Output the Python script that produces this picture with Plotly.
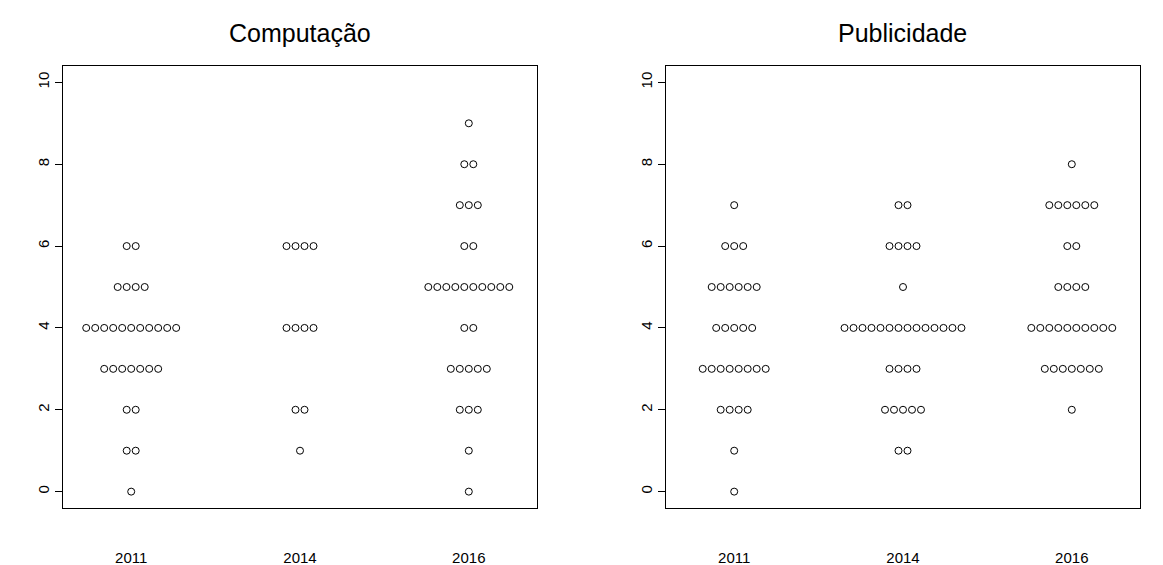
import plotly.graph_objects as go

# Scores on the vertical axis and how many respondents gave each score
scores = list(range(0, 11))
years = ["2011", "2014", "2016"]

comp_2011 = [1, 2, 2, 7, 11, 4, 2, 0, 0, 0, 0]
comp_2014 = [0, 1, 2, 0, 4, 0, 4, 0, 0, 0, 0]
comp_2016 = [1, 1, 3, 5, 2, 10, 2, 3, 2, 1, 0]

pub_2011 = [1, 1, 4, 8, 5, 6, 3, 1, 0, 0, 0]
pub_2014 = [0, 2, 5, 4, 14, 1, 4, 2, 0, 0, 0]
pub_2016 = [0, 0, 1, 7, 10, 4, 2, 6, 1, 0, 0]

panels = [
    ("Computação", [comp_2011, comp_2014, comp_2016]),
    ("Publicidade", [pub_2011, pub_2014, pub_2016]),
]

W, H = 1163, 565
STEP = 0.0533  # horizontal gap between stacked points (x units)
FONT = "Liberation Sans, Arial, sans-serif"

fig = go.Figure()

x_domains = [[63 / W, 537 / W], [666 / W, 1140 / W]]
y_domain = [(H - 508) / H, (H - 66) / H]

for p, (title, groups) in enumerate(panels):
    xa = "x" if p == 0 else "x2"
    ya = "y" if p == 0 else "y2"
    xs, ys = [], []
    for g, counts in enumerate(groups):
        for s, n in zip(scores, counts):
            for k in range(n):
                xs.append(g + 1 + (k - (n - 1) / 2) * STEP)
                ys.append(s)
    fig.add_trace(go.Scatter(
        x=xs, y=ys, mode="markers", xaxis=xa, yaxis=ya,
        marker=dict(symbol="circle-open", size=7, color="black",
                    line=dict(width=1, color="black")),
        showlegend=False, hoverinfo="y",
    ))
    fig.add_annotation(
        text=title, xref="paper", yref="paper",
        x=sum(x_domains[p]) / 2, y=(H - 33) / H,
        xanchor="center", yanchor="middle", showarrow=False,
        font=dict(family=FONT, size=25, color="black"),
    )

axis_common = dict(showgrid=False, zeroline=False, showline=True,
                   linecolor="black", linewidth=1, mirror=True)

for p in range(2):
    sfx = "" if p == 0 else "2"
    fig.update_layout(**{
        f"xaxis{sfx}": dict(
            domain=x_domains[p], range=[0.596, 3.404],
            tickvals=[1, 2, 3], ticktext=years,
            ticks="outside", ticklen=36, tickcolor="rgba(0,0,0,0)",
            tickfont=dict(family=FONT, size=15, color="black"),
            anchor="y" + sfx, **axis_common),
        f"yaxis{sfx}": dict(
            domain=y_domain, range=[-0.4, 10.4],
            tickvals=[0, 2, 4, 6, 8, 10], tickangle=-90,
            ticks="outside", ticklen=7, tickcolor="black", tickwidth=1,
            tickfont=dict(family=FONT, size=15, color="black"),
            anchor="x" + sfx, **axis_common),
    })

fig.update_layout(
    width=W, height=H,
    margin=dict(l=0, r=0, t=0, b=0),
    paper_bgcolor="white", plot_bgcolor="white",
)

fig.write_html("out.html")
